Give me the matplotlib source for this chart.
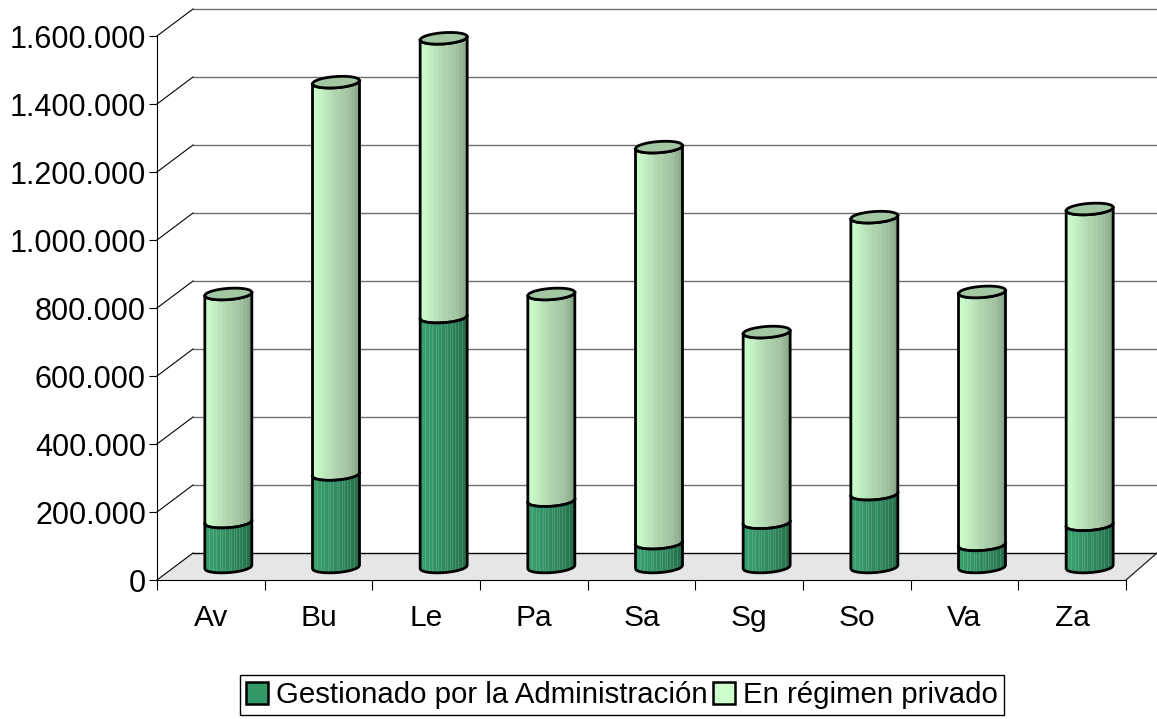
import numpy as np
import matplotlib
matplotlib.use("Agg")
import matplotlib.pyplot as plt
from matplotlib.patches import Polygon, Patch
from matplotlib.path import Path
from matplotlib.patches import PathPatch
from matplotlib.colors import to_rgb
from matplotlib.transforms import IdentityTransform

plt.rcParams['font.family'] = ['Liberation Sans', 'DejaVu Sans']

categories = ['Av', 'Bu', 'Le', 'Pa', 'Sa', 'Sg', 'So', 'Va', 'Za']
gestionado = [132000, 272000, 735000, 195000, 70000, 130000, 214000, 65000, 124000]
total = [803000, 1426000, 1555000, 803000, 1235000, 691000, 1029000, 809000, 1053000]
privado = [t - g for t, g in zip(total, gestionado)]
yticks = [0, 200000, 400000, 600000, 800000, 1000000, 1200000, 1400000, 1600000]
series_names = ['Gestionado por la Administración', 'En régimen privado']

W, H = 1157, 719
fig = plt.figure(figsize=(W / 100, H / 100), dpi=100)
ax = fig.add_axes([157 / W, 1 - 580 / H, (1126 - 157) / W, (580 - 36) / H])
ax.set_xlim(0, 9)
ax.set_ylim(0, 1600000)
ax.patch.set_visible(False)
for s in ['top', 'right']:
    ax.spines[s].set_visible(False)
for s in ['left', 'bottom']:
    ax.spines[s].set_linewidth(0.8)
    ax.spines[s].set_color('black')
ax.spines['bottom'].set_zorder(1)

ax.set_yticks(yticks)
ax.set_yticklabels([f'{v:,}'.replace(',', '.') for v in yticks])
ax.set_xticks(range(10))
ax.set_xticklabels([])
ax.set_xticks(np.arange(9) + 0.5, labels=categories, minor=True)
ax.tick_params(axis='y', length=5.5, width=0.8, labelsize=22, pad=2.5)
ax.tick_params(axis='x', which='major', length=7.5, width=0.8)
ax.tick_params(axis='x', which='minor', length=0, labelsize=21.5, pad=17)

T = ax.transData
ID = IdentityTransform()
DX, DY = 36, 27  # depth of the back wall in pixels
BAR_DX, BAR_DY = 17.5, 13
A, B, S = 23.5, 5.6, 0.07
LW = 2.0


def pt(x, v):
    return T.transform((x, v))


# floor and walls
p0 = pt(0, 0)
p1 = pt(9, 0)
ax.add_patch(Polygon([p0, p0 + [DX, DY], [W, p0[1] + DY], p1], closed=True,
                     fc='#e6e6e6', ec='none', transform=ID, zorder=0.5, clip_on=False))
ax.plot([p1[0], p1[0] + 31], [p1[1], p1[1] + 27], color='#222222', lw=0.9,
        transform=ID, clip_on=False, zorder=0.7)
for v in yticks:
    q = pt(0, v)
    ax.plot([q[0] + DX, W], [q[1] + DY] * 2, color='#6e6e6e' if v else 'black', lw=1.0,
            transform=ID, clip_on=False, zorder=0.6)
    ax.plot([q[0], q[0] + DX], [q[1], q[1] + DY], color='black', lw=0.8,
            transform=ID, clip_on=False, zorder=0.7)

light_stops = [(0.0, '#ccffcc'), (0.1, '#c8fac8'), (0.45, '#b2d8b2'), (0.8, '#9fc09f'), (1.0, '#86a386')]
dark_stops = [(0.0, '#3aa26f'), (0.1, '#399f6d'), (0.5, '#308c60'), (0.8, '#2a7d54'), (1.0, '#246c49')]
streak = [0, 0, 0, 0, 0, 1, 0, 0, 0, 1, 0, 0, 1, 0, 0, 0, 1, 0, 1, 0, 0, 1, 0, 0, 0, 1,
          0, 1, 0, 0, 1, 0, 1, 0, 0, 1, 0, 0, 1, 0, 0, 0, 1, 0, 0, 0, 0]


def shade(stops, f, amt):
    pos = [s[0] for s in stops]
    rgb = np.array([to_rgb(s[1]) for s in stops])
    c = np.array([np.interp(f, pos, rgb[:, k]) for k in range(3)])
    return tuple(c + (1 - c) * amt)


def lower(xs):
    r = np.clip(1 - (xs / A) ** 2, 0, 1)
    return S * xs - B * np.sqrt(r)


def upper(xs):
    r = np.clip(1 - (xs / A) ** 2, 0, 1)
    return S * xs + B * np.sqrt(r)


def segment(cx, base_y, top_y, stops, amt, z):
    edges = np.linspace(-A, A, 48)
    for k in range(47):
        xs = np.linspace(edges[k], edges[k + 1], 3)
        bot = base_y + lower(xs)
        top = top_y + lower(xs)
        poly = np.r_[np.c_[cx + xs, bot], np.c_[cx + xs, top][::-1]]
        ax.add_patch(Polygon(poly, closed=True, fc=shade(stops, (k + .5) / 47, amt * streak[k]),
                             ec='none', lw=0, transform=ID, zorder=z, antialiased=False, clip_on=False))
    xs = np.linspace(-A, A, 60)
    # open outline: left side, lower arc, right side
    outline = np.r_[[[cx - A, top_y + lower(np.array([-A]))[0]]],
                    np.c_[cx + xs, base_y + lower(xs)],
                    [[cx + A, top_y + lower(np.array([A]))[0]]]]
    ax.add_patch(PathPatch(Path(outline), fc='none', ec='black', lw=LW, transform=ID,
                           zorder=z + 0.1, clip_on=False, joinstyle='round'))
    ax.plot(cx + xs, top_y + lower(xs), color='black', lw=LW, transform=ID, zorder=z + 0.2,
            clip_on=False)


for i, (g, p) in enumerate(zip(gestionado, privado)):
    c = pt(i + 0.5, 0)
    cx = c[0] + BAR_DX
    y0 = c[1] + BAR_DY
    y1 = pt(0, g)[1] + BAR_DY
    y2 = pt(0, g + p)[1] + BAR_DY
    segment(cx, y1, y2, light_stops, 0.06, 2)
    segment(cx, y0, y1, dark_stops, 0.14, 3)
    xs = np.linspace(-A, A, 60)
    ell = np.r_[np.c_[cx + xs, y2 + lower(xs)], np.c_[cx + xs, y2 + upper(xs)][::-1]]
    ax.add_patch(Polygon(ell, closed=True, fc='#a3c7a3', ec='black', lw=LW, transform=ID,
                         zorder=4, clip_on=False))

handles = [Patch(fc='#339966', ec='black', lw=1.8), Patch(fc='#ccffcc', ec='black', lw=1.8)]
leg = fig.legend(handles, series_names, loc='center', bbox_to_anchor=(622 / W, 1 - 695 / H),
                 fontsize=21.2, frameon=True, fancybox=False, edgecolor='black', framealpha=1,
                 ncol=2, handlelength=0.75, handleheight=0.75, handletextpad=0.25,
                 columnspacing=0.2, borderpad=0.2, borderaxespad=0)
leg.get_frame().set_linewidth(1.0)

fig.savefig('out.png', dpi=100, facecolor='white')
